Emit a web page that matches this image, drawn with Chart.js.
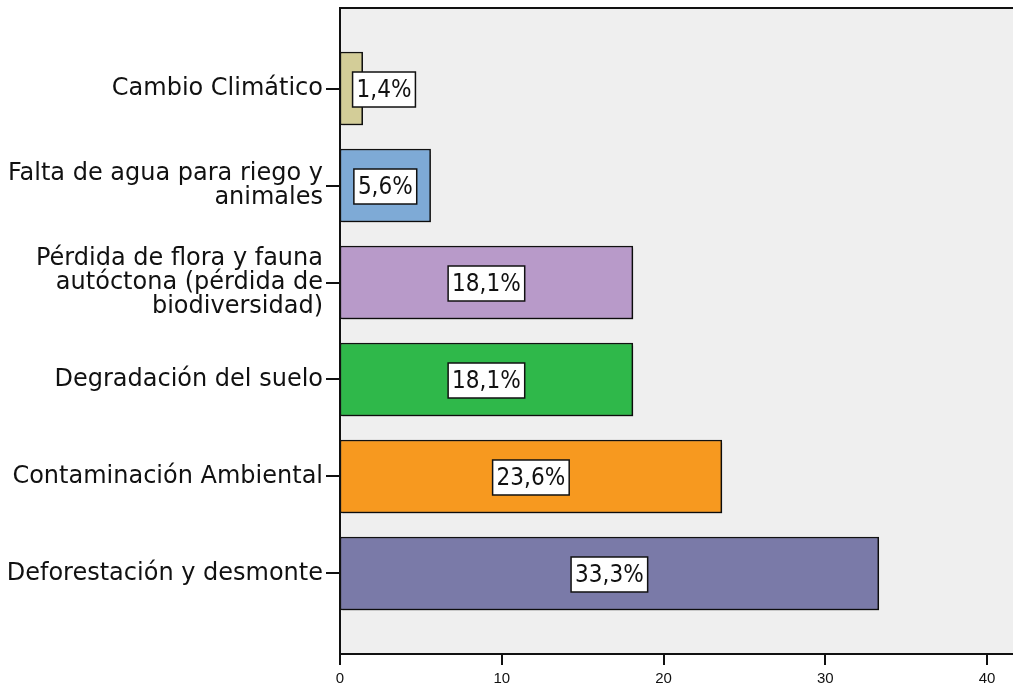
<!DOCTYPE html>
<html>
<head>
<meta charset="utf-8">
<script src="https://cdn.jsdelivr.net/npm/chart.js@4"></script>
<style>
    html, body { margin: 0; padding: 0; background: #fff; }
    #wrap { width: 1013px; height: 687px; }
</style>
</head>
<body>
<div id="wrap"><canvas id="chart"></canvas></div>
<script>
    // categories, top to bottom
    const categories = [
        "Cambio Climático",
        ["Falta de agua para riego y", "animales"],
        ["Pérdida de flora y fauna", "autóctona (pérdida de", "biodiversidad)"],
        "Degradación del suelo",
        "Contaminación Ambiental",
        "Deforestación y desmonte"
    ];
    const percentages = [1.4, 5.6, 18.1, 18.1, 23.6, 33.3];
    const xTicks = [0, 10, 20, 30, 40];
    const barColors = ["#d3cd98", "#7eaad6", "#b89ac9", "#2fb84a", "#f7991f", "#7a7aa8"];

    const LABEL_FONT = "DejaVu Sans";
    const VALUE_FONT = "'DejaVu Sans Condensed', 'DejaVu Sans'";

    const plotFrame = {
        id: "plotFrame",
        beforeDraw(chart) {
            const { ctx, chartArea: a } = chart;
            ctx.save();
            ctx.fillStyle = "#efefef";
            ctx.fillRect(a.left, a.top, a.right - a.left, a.bottom - a.top);
            ctx.strokeStyle = "#111";
            ctx.lineWidth = 2;
            ctx.beginPath();
            ctx.moveTo(a.left, a.top);
            ctx.lineTo(a.right, a.top);
            ctx.stroke();
            ctx.restore();
        },
        beforeDatasetsDraw(chart) {
            const ctx = chart.ctx;
            ctx.save();
            ctx.shadowColor = "rgba(0,0,0,0.25)";
            ctx.shadowOffsetX = 2;
            ctx.shadowOffsetY = 2;
            ctx.shadowBlur = 1;
        },
        afterDatasetsDraw(chart) {
            const ctx = chart.ctx;
            ctx.restore();
            const meta = chart.getDatasetMeta(0);
            ctx.save();
            ctx.font = "24px " + VALUE_FONT;
            ctx.textAlign = "center";
            ctx.textBaseline = "middle";
            meta.data.forEach((bar, i) => {
                const text = percentages[i].toFixed(1).replace(".", ",") + "%";
                const w = ctx.measureText(text).width + 8;
                const h = 35;
                const cx = Math.max((bar.x + bar.base) / 2, bar.base + 44);
                const cy = bar.y + 1;
                ctx.fillStyle = "#fff";
                ctx.fillRect(cx - w / 2, cy - h / 2, w, h);
                ctx.strokeStyle = "#111";
                ctx.lineWidth = 1.5;
                ctx.strokeRect(cx - w / 2, cy - h / 2, w, h);
                ctx.fillStyle = "#111";
                ctx.fillText(text, cx, cy + 1);
            });
            ctx.restore();
        },
        afterDraw(chart) {
            // short tick marks below the value axis
            const { ctx, scales: { x } } = chart;
            ctx.save();
            ctx.strokeStyle = "#111";
            ctx.lineWidth = 2;
            xTicks.forEach(v => {
                const px = Math.round(x.getPixelForValue(v));
                ctx.beginPath();
                ctx.moveTo(px, x.top);
                ctx.lineTo(px, x.top + 11);
                ctx.stroke();
            });
            ctx.restore();
        }
    };

    new Chart(document.getElementById("chart"), {
        type: "bar",
        data: {
            datasets: [{
                data: percentages.map((v, i) => ({ x: v, y: i })),
                backgroundColor: barColors,
                borderColor: "#111",
                borderWidth: 1.5,
                borderSkipped: false,
                barThickness: 73
            }]
        },
        options: {
            indexAxis: "y",
            responsive: true,
            maintainAspectRatio: false,
            animation: false,
            layout: { padding: { top: 8, right: 0, left: 0, bottom: 0 } },
            plugins: {
                legend: { display: false },
                tooltip: { enabled: false }
            },
            scales: {
                x: {
                    type: "linear",
                    min: 0,
                    max: 41.6,
                    afterBuildTicks: scale => { scale.ticks = xTicks.map(v => ({ value: v })); },
                    afterFit: scale => { scale.height = 33; scale.paddingLeft = 0; scale.paddingRight = 0; },
                    ticks: {
                        color: "#111",
                        font: { family: "Liberation Sans", size: 15 },
                        padding: 5
                    },
                    grid: {
                        display: false,
                        tickLength: 11
                    },
                    border: { color: "#111", width: 2 }
                },
                y: {
                    type: "linear",
                    reverse: true,
                    offset: false,
                    min: -0.83,
                    max: 5.83,
                    afterBuildTicks: scale => { scale.ticks = categories.map((c, i) => ({ value: i })); },
                    afterFit: scale => { scale.width = 340; scale.paddingTop = 0; scale.paddingBottom = 0; },
                    ticks: {
                        color: "#111",
                        font: { family: LABEL_FONT, size: 24, lineHeight: 1.0 },
                        padding: 3,
                        callback: value => categories[value]
                    },
                    grid: {
                        offset: false,
                        drawOnChartArea: false,
                        drawTicks: true,
                        tickLength: 14,
                        color: "#111",
                        lineWidth: 2
                    },
                    border: { color: "#111", width: 2 }
                }
            }
        },
        plugins: [plotFrame]
    });
</script>
</body>
</html>
